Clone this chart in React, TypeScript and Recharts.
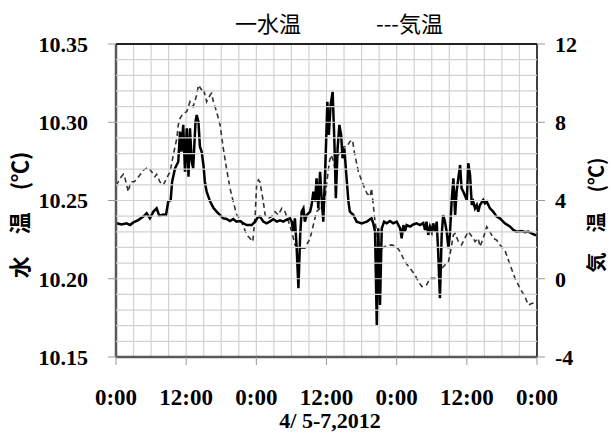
import React from "react";
import {
  LineChart,
  Line,
  XAxis,
  YAxis,
  CartesianGrid,
} from "recharts";

// time axis (hours since 4/5 0:00)
const hourTicks = [0, 12, 24, 36, 48, 60, 72];
const hourLabels = ["0:00", "12:00", "0:00", "12:00", "0:00", "12:00", "0:00"];
const waterTicks = [10.15, 10.2, 10.25, 10.3, 10.35];
const airTicks = [-4, 0, 4, 8, 12];

// 水温 (left axis)
const waterHours = [
  0, 0.1, 0.97, 1.83, 2.4, 2.97, 3.8, 4.67, 5.25, 5.8, 6.4, 6.95, 7.4, 8.1, 8.55, 8.95, 9.35, 9.6,
  10.1, 10.65, 10.95, 11.2, 11.5, 11.8, 12.1, 12.4, 12.65, 12.95, 13.2, 13.6, 13.8, 14.1, 14.35,
  14.65, 14.95, 15.2, 15.5, 16.1, 16.65, 17.2, 17.8, 18.35, 18.9, 19.5, 20.05, 20.6, 21.2, 21.8,
  22.35, 23.2, 23.8, 24.2, 24.6, 25.2, 25.75, 26.3, 26.9, 27.5, 28.05, 28.6, 29.2, 29.75, 30.05,
  30.3, 30.6, 30.9, 31.2, 31.5, 31.75, 32.05, 32.3, 32.6, 33.2, 33.45, 33.75, 34.05, 34.3, 34.6,
  34.9, 35.2, 35.45, 35.75, 36.15, 36.4, 36.7, 37.05, 37.35, 37.6, 37.9, 38.2, 38.5, 38.75, 39.05,
  39.35, 39.75, 40.0, 40.6, 41.15, 42.0, 42.9, 43.7, 44.0, 44.3, 44.6, 44.85, 45.15, 45.45, 45.85,
  46.3, 46.85, 47.4, 48.0, 48.6, 48.85, 49.15, 49.4, 49.7, 50.3, 50.85, 51.4, 52.0, 52.55, 52.85,
  53.1, 53.4, 53.7, 54.0, 54.25, 54.55, 54.85, 55.1, 55.4, 55.7, 55.95, 56.25, 56.55, 56.85, 57.1,
  57.4, 57.7, 58.0, 58.25, 58.55, 58.85, 59.1, 59.4, 60.0, 60.25, 60.55, 60.85, 61.1, 61.4, 61.7,
  61.95, 62.25, 62.8, 63.1, 63.4, 63.95, 64.5, 65.1, 65.65, 66.5, 67.4, 67.95, 68.5, 69.4, 69.95,
  70.5, 71.1, 71.65, 72,
];
const waterTemp = [
  10.2354, 10.2354, 10.2347, 10.2354, 10.2343, 10.236, 10.2375, 10.2397, 10.2418, 10.2386, 10.2429,
  10.245, 10.2403, 10.241, 10.2407, 10.2497, 10.2503, 10.262, 10.2706, 10.2748, 10.294, 10.2812,
  10.2983, 10.2684, 10.2961, 10.2652, 10.2961, 10.2748, 10.2706, 10.3004, 10.3046, 10.3004,
  10.2844, 10.2812, 10.2727, 10.262, 10.2556, 10.2493, 10.2454, 10.2429, 10.2407, 10.2386,
  10.2382, 10.2369, 10.2382, 10.2365, 10.2369, 10.2354, 10.2343, 10.2343, 10.2365, 10.239,
  10.2397, 10.2365, 10.2354, 10.2365, 10.238, 10.2365, 10.2373, 10.2365, 10.2377, 10.2386,
  10.2365, 10.2301, 10.2386, 10.2195, 10.1939, 10.228, 10.2429, 10.245, 10.2365, 10.2407, 10.2429,
  10.2471, 10.2556, 10.2493, 10.2642, 10.245, 10.2684, 10.2493, 10.2365, 10.2663, 10.3131,
  10.2919, 10.311, 10.3195, 10.2876, 10.2514, 10.2833, 10.2983, 10.2919, 10.277, 10.2833,
  10.2684, 10.2493, 10.2429, 10.2407, 10.2365, 10.2354, 10.2365, 10.2386, 10.2354, 10.2301,
  10.1704, 10.2322, 10.1832, 10.2322, 10.2365, 10.2354, 10.2369, 10.2354, 10.2365, 10.2322,
  10.2258, 10.2343, 10.2301, 10.2343, 10.2333, 10.2347, 10.2354, 10.2343, 10.2356, 10.2312,
  10.2365, 10.228, 10.2333, 10.2301, 10.2354, 10.2301, 10.2365, 10.2173, 10.1875, 10.228,
  10.2407, 10.2365, 10.2301, 10.2195, 10.228, 10.2493, 10.2642, 10.2407, 10.2556, 10.2642,
  10.2727, 10.2578, 10.2556, 10.2503, 10.2738, 10.2663, 10.2471, 10.2493, 10.245, 10.2471,
  10.2429, 10.2471, 10.2503, 10.2482, 10.2493, 10.245, 10.2429, 10.2397, 10.2386, 10.2354,
  10.2333, 10.2312, 10.2301, 10.2305, 10.2297, 10.2301, 10.229, 10.228, 10.228,
];

// 気温 (right axis)
const airHours = [
  0, 0.1, 0.7, 1.25, 1.55, 2.1, 2.5, 3.1, 3.65, 4.7, 5.5, 6.1, 6.65, 6.95, 7.5, 8.1, 8.65, 9.25,
  9.8, 10.4, 10.65, 10.95, 11.5, 12.1, 12.65, 13.2, 13.8, 14.1, 14.65, 14.95, 15.5, 16.1, 16.35,
  16.65, 17.2, 17.8, 18.35, 18.9, 19.5, 20.05, 20.65, 21.2, 21.8, 22.35, 22.9, 23.4, 23.8, 24.05,
  24.35, 24.6, 25.2, 25.5, 26.05, 26.6, 27.2, 27.75, 28.35, 28.9, 29.5, 30.05, 30.6, 31.45, 32.3,
  33.2, 33.75, 34.3, 34.9, 35.45, 36.0, 36.5, 36.8, 37.2, 37.45, 38.0, 38.6, 38.9, 39.45, 40.0,
  40.45, 40.75, 41.45, 42.3, 42.9, 43.45, 43.7, 44.0, 44.3, 44.85, 45.45, 46.3, 47.15, 48.0, 48.6,
  49.4, 50.3, 51.15, 51.7, 52.3, 53.1, 53.7, 54.55, 55.1, 55.7, 56.25, 56.85, 57.1, 57.7, 58.0,
  58.55, 59.1, 59.65, 60.25, 61.1, 61.4, 61.95, 62.25, 62.8, 63.4, 63.95, 64.5, 65.1, 65.65, 66.5,
  67.4, 68.25, 69.1, 69.95, 70.5, 71.1, 71.65, 72,
];
const airTemp = [
  4.79, 4.79, 5.13, 5.34, 5.13, 4.45, 4.96, 4.96, 5.13, 5.56, 5.7, 5.47, 5.22, 5.34, 4.96, 4.79,
  5.13, 5.47, 6.33, 7.18, 7.86, 8.2, 8.46, 8.54, 9.05, 8.8, 9.39, 9.9, 9.65, 9.73, 9.05, 9.39, 9.48,
  9.05, 8.54, 7.86, 6.67, 5.64, 4.62, 3.94, 3.26, 3.09, 2.66, 2.24, 2.07, 1.9, 3.26, 4.79, 5.05,
  4.96, 3.94, 3.26, 3.09, 3.17, 3.43, 3.26, 3.6, 3.43, 2.92, 2.41, 1.73, 1.56, 1.56, 2.07, 2.75,
  3.43, 3.6, 3.43, 4.79, 5.99, 6.33, 5.99, 5.64, 6.33, 6.5, 6.75, 6.75, 7.01, 7.09, 6.5, 5.47,
  4.79, 4.37, 4.2, 4.62, 3.77, 2.92, 1.9, 1.56, 1.69, 1.73, 1.64, 1.38, 0.87, 0.53, 0.19, -0.15,
  -0.4, -0.32, 0.02, 0.02, 0.19, 0.53, 0.7, 0.87, 1.21, 2.24, 2.32, 1.9, 1.73, 2.07, 2.41, 2.07,
  1.9, 2.07, 1.64, 2.07, 2.66, 2.41, 2.07, 1.98, 1.73, 1.47, 0.7, 0.02, -0.49, -0.92, -1.34,
  -1.26, -1.22, -1.22,
];

const waterData = waterHours.map((h, i) => ({ h, water: waterTemp[i] }));
const airData = airHours.map((h, i) => ({ h, air: airTemp[i] }));

// minor grid every 3 h / 0.01 ℃
const gridHours = Array.from({ length: 25 }, (_, i) => i * 3);
const gridWater = Array.from({ length: 21 }, (_, i) => +(10.15 + i * 0.01).toFixed(2));
const waterDomain = [10.15, 10.35];
const hourDomain = [0, 72];

const chartW = 611;
const chartH = 434;
const leftW = 116;
const rightW = 74;
const plotW = chartW - leftW - rightW;

const serif = "'Liberation Serif', 'Times New Roman', serif";
const cjk = "'Noto Sans CJK JP', 'Noto Sans', sans-serif";

const AxisTitle = ({ viewBox, text, dx, size }: any) => {
  const cx = viewBox.x + dx;
  const cy = 215;
  return (
    <text
      x={cx}
      y={cy}
      transform={`rotate(-90, ${cx}, ${cy})`}
      textAnchor="middle"
      dominantBaseline="central"
      fontFamily={cjk}
      fontWeight="bold"
      fontSize={size}
      fill="#000"
    >
      {text}
    </text>
  );
};

// left-axis tick: minor grid line across the plot, plus tick mark and label on majors
const WaterTick = ({ x, y, payload }: any) => {
  const v = payload.value;
  const major = waterTicks.includes(v);
  const top = v === waterDomain[1];
  const bottom = v === waterDomain[0];
  return (
    <g>
      {!bottom && (
        <line
          x1={x}
          x2={x + plotW}
          y1={y}
          y2={y}
          stroke={top ? "#222" : "#d2d2d2"}
          strokeWidth={top ? 2 : 1.2}
        />
      )}
      {major && <line x1={x - 8} x2={x} y1={y} y2={y} stroke="#999" />}
      {major && (
        <text
          x={x - 28}
          y={y}
          dy="0.355em"
          textAnchor="end"
          fontFamily={serif}
          fontWeight="bold"
          fontSize={22}
          fill="#000"
        >
          {Number(v).toFixed(2)}
        </text>
      )}
    </g>
  );
};

const vGrid = ({ xAxis, offset }: any) =>
  gridHours.map((h) =>
    xAxis && typeof xAxis.scale === "function"
      ? xAxis.scale(h)
      : offset.left + (offset.width * (h - hourDomain[0])) / (hourDomain[1] - hourDomain[0])
  );

export default function App() {
  return (
    <div
      style={{
        position: "absolute",
        left: 0,
        top: 0,
        width: chartW,
        height: chartH,
        background: "#fff",
      }}
    >
      <LineChart
        width={chartW}
        height={chartH}
        data={waterData}
        margin={{ top: 44, right: 0, bottom: 0, left: 0 }}
      >
        <CartesianGrid
          horizontal={false}
          stroke="#d2d2d2"
          strokeWidth={1.2}
          verticalCoordinatesGenerator={vGrid}
        />
        <XAxis
          dataKey="h"
          type="number"
          domain={hourDomain}
          ticks={hourTicks}
          allowDataOverflow
          height={77}
          tickFormatter={(v) => hourLabels[hourTicks.indexOf(v)]}
          tick={{ fontSize: 23, fontFamily: serif, fontWeight: "bold", fill: "#000" }}
          tickSize={8}
          tickMargin={24}
          tickLine={{ stroke: "#999" }}
          axisLine={{ stroke: "#595959", strokeWidth: 2.5 }}
          label={{
            content: () => (
              <text
                x={330}
                y={428}
                textAnchor="middle"
                fontFamily={serif}
                fontWeight="bold"
                fontSize={22}
                fill="#000"
              >
                4/ 5-7,2012
              </text>
            ),
          }}
        />
        <YAxis
          orientation="left"
          width={leftW}
          type="number"
          domain={waterDomain}
          ticks={gridWater}
          interval={0}
          allowDataOverflow
          tick={<WaterTick />}
          tickSize={0}
          tickMargin={0}
          tickLine={false}
          axisLine={{ stroke: "#595959", strokeWidth: 2.5 }}
          label={{ content: (p: any) => <AxisTitle {...p} text="水　温　(℃)" dx={18} size={22} /> }}
        />
        <YAxis
          yAxisId="a"
          orientation="right"
          width={rightW}
          type="number"
          domain={[-4, 12]}
          ticks={airTicks}
          allowDataOverflow
          tick={{ fontSize: 22, fontFamily: serif, fontWeight: "bold", fill: "#000" }}
          tickSize={8}
          tickMargin={10}
          tickLine={{ stroke: "#999" }}
          axisLine={{ stroke: "#404040", strokeWidth: 2 }}
          label={{ content: (p: any) => <AxisTitle {...p} text="気　温　(℃)" dx={58} size={20} /> }}
        />
        <Line
          yAxisId="a"
          data={airData}
          dataKey="air"
          type="linear"
          stroke="#333"
          strokeWidth={1.6}
          strokeDasharray="5 3.5"
          dot={false}
          isAnimationActive={false}
        />
        <Line
          dataKey="water"
          type="linear"
          stroke="#000"
          strokeWidth={2.5}
          dot={false}
          isAnimationActive={false}
        />
      </LineChart>
      {/* legend */}
      <div
        style={{
          position: "absolute",
          top: 10,
          left: 0,
          width: chartW,
          fontFamily: cjk,
          fontSize: 22,
          lineHeight: "24px",
          color: "#000",
        }}
      >
        <span style={{ position: "absolute", left: 235 }}>一水温</span>
        <span style={{ position: "absolute", left: 376 }}>---気温</span>
      </div>
    </div>
  );
}
